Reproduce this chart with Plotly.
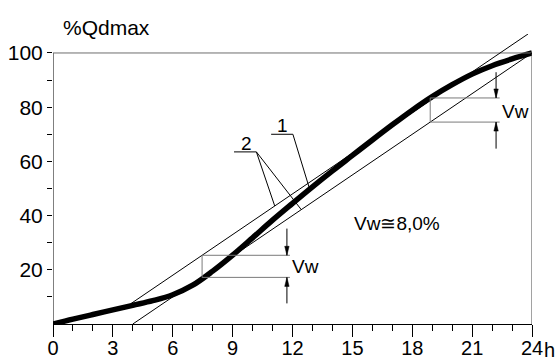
import plotly.graph_objects as go

# ---- data ----
hours = list(range(25))
q_cum = [0, 1.8, 3.5, 5.2, 6.9, 8.6, 10.8, 14.3, 19.5, 25.4, 31.8, 38.3, 44.5,
         50.6, 56.5, 62.2, 67.9, 73.5, 78.9, 83.9, 88.3, 92.2, 95.3, 97.8, 100]
x_tickvals = [0, 3, 6, 9, 12, 15, 18, 21, 24]
x_ticktext = ["0", "3", "6", "9", "12", "15", "18", "21", "24"]
y_tickvals = [10, 20, 30, 40, 50, 60, 70, 80, 90, 100]
y_ticktext = ["", "20", "", "40", "", "60", "", "80", "", "100"]

# tangent lines (constant-rate supply) and the storage volume Vw
slope = 5.0          # % per hour
lower_x0 = 4.0       # lower tangent crosses 0 here
vw = 8.0             # offset between the two tangents (%)
upper_start, upper_end = 3.9, 23.8

box1_x = (7.47, 11.87); box1_bottom = 17.2; arrow1_x = 11.72; arrow1_tips = (35.2, 7.6)
box2_x = (18.9, 22.38); arrow2_x = 22.2; arrow2_tips = (92.9, 64.7)

FONT = "Liberation Sans, Arial, sans-serif"

W, H = 556, 362
L, R, T, B = 53, 24, 34, 38
XR = [0, 24]
YR = [0, 107]
px_x = (W - L - R) / (XR[1] - XR[0])
px_y = (H - T - B) / (YR[1] - YR[0])


def lower(x):
    return slope * (x - lower_x0)


def upper(x):
    return slope * (x - lower_x0) + vw


def curve_at(x):
    for i in range(len(hours) - 1):
        if hours[i] <= x <= hours[i + 1]:
            t = (x - hours[i]) / (hours[i + 1] - hours[i])
            return q_cum[i] + t * (q_cum[i + 1] - q_cum[i])
    return q_cum[-1]


fig = go.Figure()

shapes = []


def line(x0, y0, x1, y1, color="black", width=1):
    shapes.append(dict(type="line", xref="x", yref="y", x0=x0, y0=y0, x1=x1, y1=y1,
                       line=dict(color=color, width=width), layer="above"))


def head(x, y, direction):
    # narrow filled arrow head, apex at (x, y)
    hw = 2.2 / px_x
    hl = 9.0 / px_y
    yb = y + hl if direction == "down" else y - hl
    path = f"M {x} {y} L {x - hw} {yb} L {x + hw} {yb} Z"
    shapes.append(dict(type="path", xref="x", yref="y", path=path,
                       fillcolor="black", line=dict(color="black", width=0.5), layer="above"))


# frame
line(0, 0, 0, 100, "black", 1)
line(0, 100, 24, 100, "#6e6e6e", 1)
line(24, 0, 24, 100, "#444444", 1)

# tangents
line(lower_x0, 0, 24, lower(24), "black", 1)
line(upper_start, upper(upper_start), upper_end, upper(upper_end), "black", 1)

# Vw box 1
bx0, bx1 = box1_x
line(bx0, upper(bx0), bx1, upper(bx0), "#7a7a7a", 1)
line(bx0, box1_bottom, bx1, box1_bottom, "#7a7a7a", 1)
line(bx0, box1_bottom, bx0, upper(bx0), "#7a7a7a", 1)
line(arrow1_x, arrow1_tips[0], arrow1_x, upper(bx0), "black", 1)
head(arrow1_x, upper(bx0), "down")
line(arrow1_x, arrow1_tips[1], arrow1_x, box1_bottom, "black", 1)
head(arrow1_x, box1_bottom, "up")

# Vw box 2
cx0, cx1 = box2_x
top2 = curve_at(cx0)
line(cx0, top2, cx1, top2, "#7a7a7a", 1)
line(cx0, lower(cx0), cx1, lower(cx0), "#7a7a7a", 1)
line(cx0, lower(cx0), cx0, top2, "#7a7a7a", 1)
line(arrow2_x, arrow2_tips[0], arrow2_x, top2, "black", 1)
head(arrow2_x, top2, "down")
line(arrow2_x, arrow2_tips[1], arrow2_x, lower(cx0), "black", 1)
head(arrow2_x, lower(cx0), "up")

# leader for label 1 (curve)
line(10.93, 70.0, 12.02, 70.0)
line(12.02, 70.0, 12.86, curve_at(12.86))
# leader for label 2 (tangents)
line(9.07, 63.5, 10.19, 63.5)
line(10.19, 63.5, 11.11, upper(11.11))
line(10.19, 63.5, 12.44, lower(12.44))

fig.add_trace(go.Scatter(x=hours, y=q_cum, mode="lines", line=dict(color="black", width=5.5, shape="spline"),
                         hoverinfo="skip", showlegend=False))

annotations = [
    dict(text="%Qdmax", xref="paper", yref="paper", x=(61 - L) / (W - L - R), y=(H - B - 27) / (H - T - B),
         xanchor="left", yanchor="middle", showarrow=False, font=dict(size=21, family=FONT, color="black")),
    dict(text="1", xref="x", yref="y", x=11.52, y=73.3, xanchor="center", yanchor="middle",
         showarrow=False, font=dict(size=19, family=FONT, color="black")),
    dict(text="2", xref="x", yref="y", x=9.69, y=66.6, xanchor="center", yanchor="middle",
         showarrow=False, font=dict(size=19, family=FONT, color="black")),
    dict(text="Vw", xref="x", yref="y", x=11.85, y=21.1, xanchor="left", yanchor="middle",
         showarrow=False, font=dict(size=19, family=FONT, color="black")),
    dict(text="Vw", xref="x", yref="y", x=22.4, y=78.5, xanchor="left", yanchor="middle",
         showarrow=False, font=dict(size=19, family=FONT, color="black")),
    dict(text="Vw≅8,0%", xref="x", yref="y", x=15.0, y=37.2, xanchor="left", yanchor="middle",
         showarrow=False, font=dict(size=19, family=FONT, color="black")),
    dict(text="h", xref="x", yref="paper", x=24, y=0, xanchor="left", yanchor="top", xshift=10, yshift=-13,
         showarrow=False, font=dict(size=20, family=FONT, color="black")),
]

fig.update_layout(
    width=W, height=H,
    margin=dict(l=L, r=R, t=T, b=B, pad=0, autoexpand=False),
    paper_bgcolor="white", plot_bgcolor="white",
    shapes=shapes, annotations=annotations,
    font=dict(family=FONT, color="black"),
    xaxis=dict(range=XR, showgrid=False, zeroline=False, showline=True, linecolor="black", linewidth=1,
               automargin=False,
               tickmode="array", tickvals=x_tickvals, ticktext=x_ticktext,
               ticks="outside", ticklen=12, tickwidth=1, tickcolor="black",
               ticklabelstandoff=-6,
               tickfont=dict(size=20, family=FONT, color="black"),
               minor=dict(dtick=1, ticks="outside", ticklen=6, tickwidth=1, tickcolor="black")),
    yaxis=dict(range=YR, showgrid=False, zeroline=False, showline=False, automargin=False,
               tickmode="array", tickvals=y_tickvals, ticktext=y_ticktext,
               ticks="outside", ticklen=5, tickwidth=1, tickcolor="black",
               tickfont=dict(size=21, family=FONT, color="black")),
)

fig.write_html("out.html", config={"displayModeBar": False},
               post_script="document.body.style.margin='0';document.body.style.overflow='hidden';")
